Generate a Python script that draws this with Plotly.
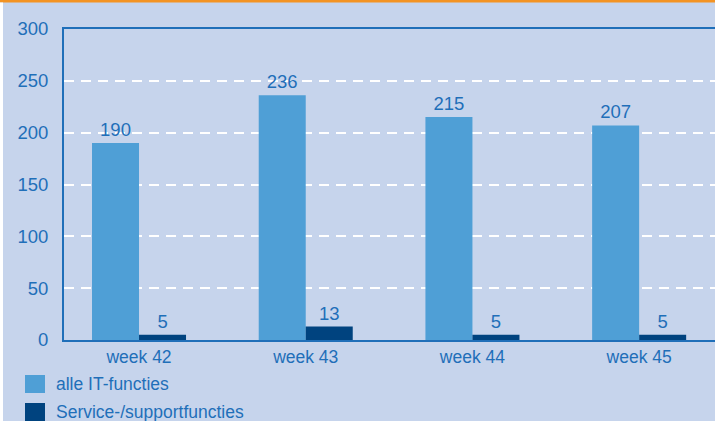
import plotly.graph_objects as go

weeks = ["week 42", "week 43", "week 44", "week 45"]
series_names = ["alle IT-functies", "Service-/supportfuncties"]
alle_it = [190, 236, 215, 207]
service = [5, 13, 5, 5]
y_ticks = [0, 50, 100, 150, 200, 250, 300]

BG = "#C6D4EC"
TXT = "#1F6FB9"
C1 = "#4F9FD6"
C2 = "#00437F"
FONT = "Liberation Sans, Arial, sans-serif"
FS = 17.5
FS_NUM = 18.5

W, H = 715, 421
ML, MR, MT, MB = 64, 0, 29, 81
PW, PH = W - ML - MR, H - MT - MB

def px_x(p):
    return (p - ML) / PW

def px_y(p):
    return 1 - (p - MT) / PH

fig = go.Figure()
for name, vals, col in [(series_names[0], alle_it, C1), (series_names[1], service, C2)]:
    fig.add_trace(go.Bar(
        x=weeks, y=vals, name=name, marker=dict(color=col, line=dict(width=0)),
        text=[str(v) for v in vals], textposition="outside",
        textfont=dict(family=FONT, size=FS_NUM, color=TXT), cliponaxis=False,
        showlegend=False, hoverinfo="skip",
    ))

shapes = [
    dict(type="rect", xref="paper", yref="paper", x0=px_x(0), x1=px_x(W), y0=px_y(2.5), y1=px_y(0),
         fillcolor="#F39323", line=dict(width=0), layer="above"),
    dict(type="rect", xref="paper", yref="paper", x0=px_x(0), x1=px_x(3), y0=px_y(H), y1=px_y(2.5),
         fillcolor="#FFFFFF", line=dict(width=0), layer="above"),
]
annotations = []
legend_y = [384, 412]
for i, (name, col) in enumerate(zip(series_names, [C1, C2])):
    cy = legend_y[i]
    shapes.append(dict(type="rect", xref="paper", yref="paper", x0=px_x(25), x1=px_x(45),
                       y0=px_y(cy + 9), y1=px_y(cy - 9), fillcolor=col, line=dict(width=0)))
    annotations.append(dict(xref="paper", yref="paper", x=px_x(54), y=px_y(cy), text=name,
                            showarrow=False, xanchor="left", yanchor="middle",
                            font=dict(family=FONT, size=FS, color=TXT)))

fig.update_layout(
    width=W, height=H,
    margin=dict(l=ML, r=MR, t=MT, b=MB),
    paper_bgcolor=BG, plot_bgcolor=BG,
    barmode="group", bargap=0.436, bargroupgap=0,
    font=dict(family=FONT, size=FS, color=TXT),
    shapes=shapes, annotations=annotations,
    xaxis=dict(range=[-0.45, 3.455], showline=True, linecolor=TXT, linewidth=2, mirror=True,
               showgrid=False, ticks="", tickfont=dict(family=FONT, size=FS, color=TXT),
               fixedrange=True),
    yaxis=dict(range=[0, 300], tickvals=y_ticks, showline=True, linecolor=TXT, linewidth=2,
               showgrid=True, gridcolor="#FFFFFF", gridwidth=2, griddash="10px,7px",
               zeroline=False, ticks="", ticklabelstandoff=10, fixedrange=True,
               tickfont=dict(family=FONT, size=FS_NUM, color=TXT)),
)
fig.write_html(
    "out.html",
    config={"displayModeBar": False},
    post_script="document.body.style.margin='0';document.body.style.overflow='hidden';",
)
